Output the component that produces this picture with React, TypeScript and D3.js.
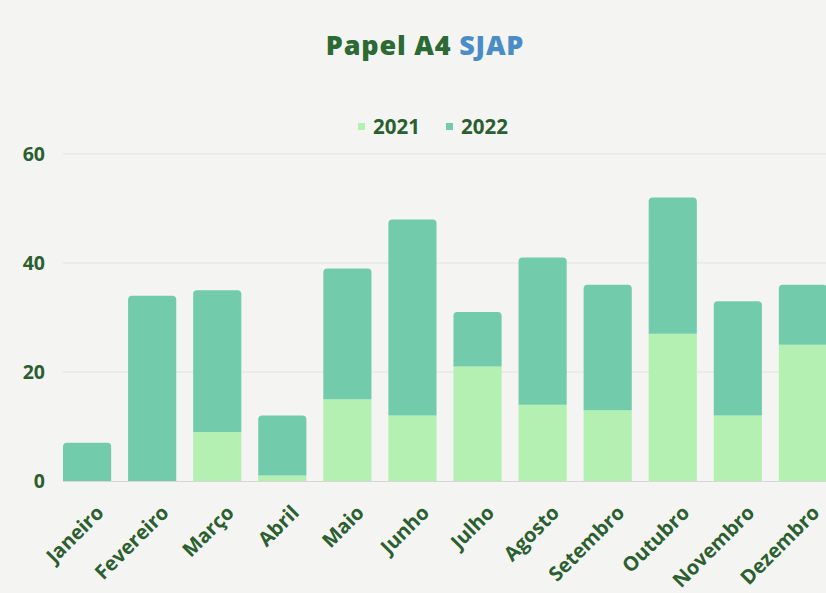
import React, { useEffect, useRef } from 'react';
import * as d3 from 'd3';

const months = ['Janeiro', 'Fevereiro', 'Março', 'Abril', 'Maio', 'Junho', 'Julho', 'Agosto', 'Setembro', 'Outubro', 'Novembro', 'Dezembro'];
const series2021 = [0, 0, 9, 1, 15, 12, 21, 14, 13, 27, 12, 25];
const series2022 = [7, 34, 26, 11, 24, 36, 10, 27, 23, 25, 21, 11];
const yTicks = [0, 20, 40, 60];
const seriesNames = ['2021', '2022'];
const colors = ['#b3f0b1', '#72cbab'];

const W = 826;
const H = 593;

const App: React.FC = () => {
  const svgRef = useRef<SVGSVGElement>(null);

  useEffect(() => {
    if (!svgRef.current) return;
    const svg = d3.select(svgRef.current);
    svg.selectAll('*').remove();

    const textColor = '#2b5f30';
    const font = "'Open Sans', sans-serif";

    svg.append('rect').attr('width', W).attr('height', H).attr('fill', '#f4f4f2');

    const x = d3.scaleBand<string>().domain(months).range([63, 827]).paddingInner(0.26).paddingOuter(0);
    const y = d3.scaleLinear().domain([0, 60]).range([481, 154]);

    // gridlines
    svg.append('g')
      .selectAll('line')
      .data(yTicks.filter(t => t > 0))
      .join('line')
      .attr('x1', 63)
      .attr('x2', W)
      .attr('y1', d => y(d))
      .attr('y2', d => y(d))
      .attr('stroke', '#e2e2e0')
      .attr('stroke-width', 1);

    // y labels
    svg.append('g')
      .selectAll('text')
      .data(yTicks)
      .join('text')
      .attr('x', 45)
      .attr('y', d => y(d))
      .attr('dy', '0.35em')
      .attr('text-anchor', 'end')
      .attr('font-family', font)
      .attr('font-weight', 700)
      .attr('font-size', 19.5)
      .attr('fill', textColor)
      .text(d => d);

    const rows = months.map((m, i) => ({ month: m, a: series2021[i], b: series2022[i] }));
    const stack = d3.stack<any>().keys(['a', 'b'])(rows);

    const r = 4;
    const bw = x.bandwidth();
    stack.forEach((layer, li) => {
      svg.append('g')
        .selectAll('path')
        .data(layer)
        .join('path')
        .attr('fill', colors[li])
        .attr('d', (d: any) => {
          const x0 = x(d.data.month)!;
          const y0 = y(d[0]);
          const y1 = y(d[1]);
          if (y0 - y1 <= 0) return '';
          const top = li === 1 || d.data.b === 0;
          if (!top) return `M${x0},${y0}V${y1}H${x0 + bw}V${y0}Z`;
          const rr = Math.min(r, y0 - y1);
          return `M${x0},${y0}V${y1 + rr}Q${x0},${y1} ${x0 + rr},${y1}H${x0 + bw - rr}Q${x0 + bw},${y1} ${x0 + bw},${y1 + rr}V${y0}Z`;
        });
    });

    // baseline
    svg.append('line')
      .attr('x1', 63).attr('x2', W)
      .attr('y1', y(0) + 0.5).attr('y2', y(0) + 0.5)
      .attr('stroke', '#d6d6d4');

    // x labels
    svg.append('g')
      .selectAll('text')
      .data(months)
      .join('text')
      .attr('transform', d => `translate(${x(d)! + bw / 2 + 13},${509}) rotate(-45)`)
      .attr('text-anchor', 'end')
      .attr('dy', '0.35em')
      .attr('font-family', font)
      .attr('font-weight', 700)
      .attr('font-size', 20)
      .attr('fill', textColor)
      .text(d => d);

    // title
    const title = svg.append('text')
      .attr('x', 425)
      .attr('y', 55)
      .attr('text-anchor', 'middle')
      .attr('font-family', font)
      .attr('font-weight', 800)
      .attr('font-size', 27)
      .attr('letter-spacing', 0.8);
    title.append('tspan').attr('fill', '#2b6a32').text('Papel A4 ');
    title.append('tspan').attr('fill', '#4a8cc6').text('SJAP');

    // legend
    const legendX = [358, 446];
    seriesNames.forEach((name, i) => {
      svg.append('rect')
        .attr('x', legendX[i])
        .attr('y', 123)
        .attr('width', 7)
        .attr('height', 7)
        .attr('fill', colors[i]);
      svg.append('text')
        .attr('x', legendX[i] + 15)
        .attr('y', 127)
        .attr('dy', '0.35em')
        .attr('font-family', font)
        .attr('font-weight', 700)
        .attr('font-size', 20.5)
        .attr('fill', textColor)
        .text(name);
    });
  }, []);

  return (
    <svg
      ref={svgRef}
      width={W}
      height={H}
      style={{ position: 'absolute', top: 0, left: 0, display: 'block' }}
    />
  );
};

export default App;
